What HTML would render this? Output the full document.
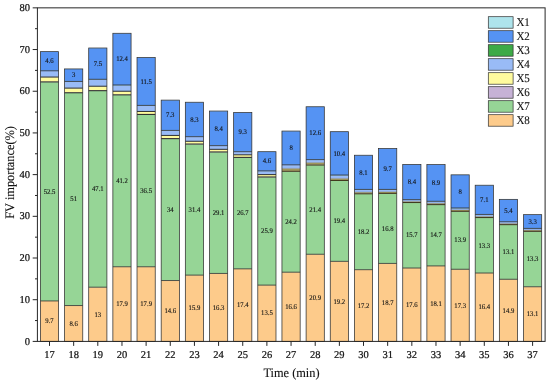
<!DOCTYPE html>
<html><head><meta charset="utf-8"><title>FV importance</title>
<style>html,body{margin:0;padding:0;background:#fff}svg{display:block}text{font-family:"Liberation Serif","Times New Roman",serif;fill:#111;text-rendering:geometricPrecision}.b text{stroke:#111;stroke-width:0.22px}text.t{stroke:#111;stroke-width:0.12px}.s text{stroke:#111;stroke-width:0.12px}</style></head><body>
<svg width="550" height="383" viewBox="0 0 550 383">
<rect width="550" height="383" fill="#fff"/>
<g><rect x="40.40" y="300.96" width="18.20" height="40.49" fill="#FDCB8B"/><rect x="40.40" y="82.06" width="18.20" height="218.94" fill="#96D596"/><rect x="40.40" y="81.65" width="18.20" height="0.47" fill="#C6B2D6"/><rect x="40.40" y="77.06" width="18.20" height="4.64" fill="#FFFB9E"/><rect x="40.40" y="70.93" width="18.20" height="6.18" fill="#99BBF6"/><rect x="40.40" y="70.81" width="18.20" height="0.18" fill="#3DAA47"/><rect x="40.40" y="51.71" width="18.20" height="19.15" fill="#5593F3"/><rect x="40.40" y="51.63" width="18.20" height="0.13" fill="#AEE4EC"/><rect x="64.56" y="305.54" width="18.20" height="35.91" fill="#FDCB8B"/><rect x="64.56" y="92.91" width="18.20" height="212.69" fill="#96D596"/><rect x="64.56" y="92.49" width="18.20" height="0.47" fill="#C6B2D6"/><rect x="64.56" y="88.11" width="18.20" height="4.43" fill="#FFFB9E"/><rect x="64.56" y="81.56" width="18.20" height="6.60" fill="#99BBF6"/><rect x="64.56" y="81.44" width="18.20" height="0.18" fill="#3DAA47"/><rect x="64.56" y="69.01" width="18.20" height="12.47" fill="#5593F3"/><rect x="64.56" y="68.93" width="18.20" height="0.13" fill="#AEE4EC"/><rect x="88.71" y="287.20" width="18.20" height="54.25" fill="#FDCB8B"/><rect x="88.71" y="90.82" width="18.20" height="196.43" fill="#96D596"/><rect x="88.71" y="90.40" width="18.20" height="0.47" fill="#C6B2D6"/><rect x="88.71" y="86.23" width="18.20" height="4.22" fill="#FFFB9E"/><rect x="88.71" y="79.44" width="18.20" height="6.85" fill="#99BBF6"/><rect x="88.71" y="79.31" width="18.20" height="0.18" fill="#3DAA47"/><rect x="88.71" y="48.08" width="18.20" height="31.28" fill="#5593F3"/><rect x="88.71" y="48.00" width="18.20" height="0.13" fill="#AEE4EC"/><rect x="112.87" y="266.77" width="18.20" height="74.68" fill="#FDCB8B"/><rect x="112.87" y="94.99" width="18.20" height="171.83" fill="#96D596"/><rect x="112.87" y="94.57" width="18.20" height="0.47" fill="#C6B2D6"/><rect x="112.87" y="91.24" width="18.20" height="3.39" fill="#FFFB9E"/><rect x="112.87" y="85.11" width="18.20" height="6.18" fill="#99BBF6"/><rect x="112.87" y="84.98" width="18.20" height="0.18" fill="#3DAA47"/><rect x="112.87" y="33.37" width="18.20" height="51.67" fill="#5593F3"/><rect x="112.87" y="33.28" width="18.20" height="0.13" fill="#AEE4EC"/><rect x="137.02" y="266.77" width="18.20" height="74.68" fill="#FDCB8B"/><rect x="137.02" y="114.59" width="18.20" height="152.23" fill="#96D596"/><rect x="137.02" y="114.17" width="18.20" height="0.47" fill="#C6B2D6"/><rect x="137.02" y="111.46" width="18.20" height="2.76" fill="#FFFB9E"/><rect x="137.02" y="105.54" width="18.20" height="5.97" fill="#99BBF6"/><rect x="137.02" y="105.41" width="18.20" height="0.18" fill="#3DAA47"/><rect x="137.02" y="57.55" width="18.20" height="47.91" fill="#5593F3"/><rect x="137.02" y="57.47" width="18.20" height="0.13" fill="#AEE4EC"/><rect x="161.18" y="280.53" width="18.20" height="60.92" fill="#FDCB8B"/><rect x="161.18" y="138.77" width="18.20" height="141.81" fill="#96D596"/><rect x="161.18" y="138.35" width="18.20" height="0.47" fill="#C6B2D6"/><rect x="161.18" y="135.43" width="18.20" height="2.97" fill="#FFFB9E"/><rect x="161.18" y="130.55" width="18.20" height="4.93" fill="#99BBF6"/><rect x="161.18" y="130.43" width="18.20" height="0.18" fill="#3DAA47"/><rect x="161.18" y="100.20" width="18.20" height="30.28" fill="#5593F3"/><rect x="161.18" y="100.12" width="18.20" height="0.13" fill="#AEE4EC"/><rect x="185.33" y="275.11" width="18.20" height="66.34" fill="#FDCB8B"/><rect x="185.33" y="144.19" width="18.20" height="130.97" fill="#96D596"/><rect x="185.33" y="143.77" width="18.20" height="0.47" fill="#C6B2D6"/><rect x="185.33" y="141.27" width="18.20" height="2.55" fill="#FFFB9E"/><rect x="185.33" y="136.81" width="18.20" height="4.51" fill="#99BBF6"/><rect x="185.33" y="136.68" width="18.20" height="0.18" fill="#3DAA47"/><rect x="185.33" y="102.33" width="18.20" height="34.41" fill="#5593F3"/><rect x="185.33" y="102.24" width="18.20" height="0.13" fill="#AEE4EC"/><rect x="209.49" y="273.44" width="18.20" height="68.01" fill="#FDCB8B"/><rect x="209.49" y="152.11" width="18.20" height="121.38" fill="#96D596"/><rect x="209.49" y="151.69" width="18.20" height="0.47" fill="#C6B2D6"/><rect x="209.49" y="149.32" width="18.20" height="2.43" fill="#FFFB9E"/><rect x="209.49" y="145.77" width="18.20" height="3.59" fill="#99BBF6"/><rect x="209.49" y="145.65" width="18.20" height="0.18" fill="#3DAA47"/><rect x="209.49" y="111.13" width="18.20" height="34.57" fill="#5593F3"/><rect x="209.49" y="111.04" width="18.20" height="0.13" fill="#AEE4EC"/><rect x="233.64" y="268.85" width="18.20" height="72.60" fill="#FDCB8B"/><rect x="233.64" y="157.53" width="18.20" height="111.37" fill="#96D596"/><rect x="233.64" y="157.11" width="18.20" height="0.47" fill="#C6B2D6"/><rect x="233.64" y="154.82" width="18.20" height="2.34" fill="#FFFB9E"/><rect x="233.64" y="151.82" width="18.20" height="3.05" fill="#99BBF6"/><rect x="233.64" y="151.69" width="18.20" height="0.18" fill="#3DAA47"/><rect x="233.64" y="112.58" width="18.20" height="39.16" fill="#5593F3"/><rect x="233.64" y="112.50" width="18.20" height="0.13" fill="#AEE4EC"/><rect x="257.79" y="285.11" width="18.20" height="56.34" fill="#FDCB8B"/><rect x="257.79" y="177.13" width="18.20" height="108.04" fill="#96D596"/><rect x="257.79" y="176.71" width="18.20" height="0.47" fill="#C6B2D6"/><rect x="257.79" y="174.62" width="18.20" height="2.13" fill="#FFFB9E"/><rect x="257.79" y="171.00" width="18.20" height="3.68" fill="#99BBF6"/><rect x="257.79" y="170.87" width="18.20" height="0.18" fill="#3DAA47"/><rect x="257.79" y="151.78" width="18.20" height="19.15" fill="#5593F3"/><rect x="257.79" y="151.69" width="18.20" height="0.13" fill="#AEE4EC"/><rect x="281.95" y="272.19" width="18.20" height="69.26" fill="#FDCB8B"/><rect x="281.95" y="171.29" width="18.20" height="100.95" fill="#96D596"/><rect x="281.95" y="170.87" width="18.20" height="0.47" fill="#C6B2D6"/><rect x="281.95" y="168.37" width="18.20" height="2.55" fill="#A0965A"/><rect x="281.95" y="164.95" width="18.20" height="3.47" fill="#99BBF6"/><rect x="281.95" y="164.83" width="18.20" height="0.18" fill="#3DAA47"/><rect x="281.95" y="131.14" width="18.20" height="33.74" fill="#5593F3"/><rect x="281.95" y="131.06" width="18.20" height="0.13" fill="#AEE4EC"/><rect x="306.11" y="254.26" width="18.20" height="87.19" fill="#FDCB8B"/><rect x="306.11" y="165.04" width="18.20" height="89.27" fill="#96D596"/><rect x="306.11" y="164.62" width="18.20" height="0.47" fill="#C6B2D6"/><rect x="306.11" y="162.53" width="18.20" height="2.13" fill="#A0965A"/><rect x="306.11" y="159.74" width="18.20" height="2.84" fill="#99BBF6"/><rect x="306.11" y="159.62" width="18.20" height="0.18" fill="#3DAA47"/><rect x="306.11" y="106.83" width="18.20" height="52.83" fill="#5593F3"/><rect x="306.11" y="106.75" width="18.20" height="0.13" fill="#AEE4EC"/><rect x="330.26" y="261.35" width="18.20" height="80.10" fill="#FDCB8B"/><rect x="330.26" y="180.46" width="18.20" height="80.94" fill="#96D596"/><rect x="330.26" y="180.05" width="18.20" height="0.47" fill="#C6B2D6"/><rect x="330.26" y="178.38" width="18.20" height="1.72" fill="#A0965A"/><rect x="330.26" y="175.17" width="18.20" height="3.26" fill="#99BBF6"/><rect x="330.26" y="175.04" width="18.20" height="0.18" fill="#3DAA47"/><rect x="330.26" y="131.76" width="18.20" height="43.33" fill="#5593F3"/><rect x="330.26" y="131.68" width="18.20" height="0.13" fill="#AEE4EC"/><rect x="354.41" y="269.69" width="18.20" height="71.76" fill="#FDCB8B"/><rect x="354.41" y="193.80" width="18.20" height="75.93" fill="#96D596"/><rect x="354.41" y="193.39" width="18.20" height="0.47" fill="#C6B2D6"/><rect x="354.41" y="192.14" width="18.20" height="1.30" fill="#A0965A"/><rect x="354.41" y="189.55" width="18.20" height="2.64" fill="#99BBF6"/><rect x="354.41" y="189.43" width="18.20" height="0.18" fill="#3DAA47"/><rect x="354.41" y="155.32" width="18.20" height="34.16" fill="#5593F3"/><rect x="354.41" y="155.24" width="18.20" height="0.13" fill="#AEE4EC"/><rect x="378.57" y="263.43" width="18.20" height="78.02" fill="#FDCB8B"/><rect x="378.57" y="193.39" width="18.20" height="70.10" fill="#96D596"/><rect x="378.57" y="192.97" width="18.20" height="0.47" fill="#C6B2D6"/><rect x="378.57" y="191.72" width="18.20" height="1.30" fill="#A0965A"/><rect x="378.57" y="189.55" width="18.20" height="2.22" fill="#99BBF6"/><rect x="378.57" y="189.43" width="18.20" height="0.18" fill="#3DAA47"/><rect x="378.57" y="148.57" width="18.20" height="40.91" fill="#5593F3"/><rect x="378.57" y="148.48" width="18.20" height="0.13" fill="#AEE4EC"/><rect x="402.73" y="268.02" width="18.20" height="73.43" fill="#FDCB8B"/><rect x="402.73" y="202.56" width="18.20" height="65.51" fill="#96D596"/><rect x="402.73" y="202.14" width="18.20" height="0.47" fill="#C6B2D6"/><rect x="402.73" y="201.31" width="18.20" height="0.88" fill="#A0965A"/><rect x="402.73" y="199.77" width="18.20" height="1.59" fill="#99BBF6"/><rect x="402.73" y="199.64" width="18.20" height="0.18" fill="#3DAA47"/><rect x="402.73" y="164.49" width="18.20" height="35.20" fill="#5593F3"/><rect x="402.73" y="164.41" width="18.20" height="0.13" fill="#AEE4EC"/><rect x="426.88" y="265.93" width="18.20" height="75.52" fill="#FDCB8B"/><rect x="426.88" y="204.64" width="18.20" height="61.34" fill="#96D596"/><rect x="426.88" y="204.23" width="18.20" height="0.47" fill="#C6B2D6"/><rect x="426.88" y="203.19" width="18.20" height="1.09" fill="#A0965A"/><rect x="426.88" y="201.43" width="18.20" height="1.80" fill="#99BBF6"/><rect x="426.88" y="201.31" width="18.20" height="0.18" fill="#3DAA47"/><rect x="426.88" y="164.70" width="18.20" height="36.66" fill="#5593F3"/><rect x="426.88" y="164.62" width="18.20" height="0.13" fill="#AEE4EC"/><rect x="451.03" y="269.27" width="18.20" height="72.18" fill="#FDCB8B"/><rect x="451.03" y="211.32" width="18.20" height="58.00" fill="#96D596"/><rect x="451.03" y="210.90" width="18.20" height="0.47" fill="#C6B2D6"/><rect x="451.03" y="209.86" width="18.20" height="1.09" fill="#A0965A"/><rect x="451.03" y="208.11" width="18.20" height="1.80" fill="#99BBF6"/><rect x="451.03" y="207.98" width="18.20" height="0.18" fill="#3DAA47"/><rect x="451.03" y="174.92" width="18.20" height="33.11" fill="#5593F3"/><rect x="451.03" y="174.83" width="18.20" height="0.13" fill="#AEE4EC"/><rect x="475.19" y="273.02" width="18.20" height="68.43" fill="#FDCB8B"/><rect x="475.19" y="217.57" width="18.20" height="55.50" fill="#96D596"/><rect x="475.19" y="217.15" width="18.20" height="0.47" fill="#C6B2D6"/><rect x="475.19" y="216.32" width="18.20" height="0.88" fill="#A0965A"/><rect x="475.19" y="214.57" width="18.20" height="1.80" fill="#99BBF6"/><rect x="475.19" y="214.44" width="18.20" height="0.18" fill="#3DAA47"/><rect x="475.19" y="185.30" width="18.20" height="29.19" fill="#5593F3"/><rect x="475.19" y="185.22" width="18.20" height="0.13" fill="#AEE4EC"/><rect x="499.35" y="279.28" width="18.20" height="62.17" fill="#FDCB8B"/><rect x="499.35" y="224.66" width="18.20" height="54.67" fill="#96D596"/><rect x="499.35" y="224.24" width="18.20" height="0.47" fill="#C6B2D6"/><rect x="499.35" y="223.41" width="18.20" height="0.88" fill="#A0965A"/><rect x="499.35" y="221.86" width="18.20" height="1.59" fill="#99BBF6"/><rect x="499.35" y="221.74" width="18.20" height="0.18" fill="#3DAA47"/><rect x="499.35" y="199.43" width="18.20" height="22.36" fill="#5593F3"/><rect x="499.35" y="199.35" width="18.20" height="0.13" fill="#AEE4EC"/><rect x="523.50" y="286.78" width="18.20" height="54.67" fill="#FDCB8B"/><rect x="523.50" y="231.33" width="18.20" height="55.50" fill="#96D596"/><rect x="523.50" y="230.91" width="18.20" height="0.47" fill="#C6B2D6"/><rect x="523.50" y="230.08" width="18.20" height="0.88" fill="#A0965A"/><rect x="523.50" y="228.54" width="18.20" height="1.59" fill="#99BBF6"/><rect x="523.50" y="228.41" width="18.20" height="0.18" fill="#3DAA47"/><rect x="523.50" y="214.73" width="18.20" height="13.73" fill="#5593F3"/><rect x="523.50" y="214.65" width="18.20" height="0.13" fill="#AEE4EC"/></g>
<g stroke="#303030" fill="none"><path d="M40.40 300.96H58.60" stroke-width="0.8"/><path d="M40.40 81.91H58.60" stroke-width="1.1"/><path d="M40.40 77.06H58.60" stroke-width="1"/><path d="M40.40 70.81H58.60" stroke-width="0.8"/><path d="M64.56 305.54H82.75" stroke-width="0.8"/><path d="M64.56 92.76H82.75" stroke-width="1.1"/><path d="M64.56 88.11H82.75" stroke-width="1"/><path d="M64.56 81.44H82.75" stroke-width="0.8"/><path d="M88.71 287.20H106.91" stroke-width="0.8"/><path d="M88.71 90.67H106.91" stroke-width="1.1"/><path d="M88.71 86.23H106.91" stroke-width="1"/><path d="M88.71 79.31H106.91" stroke-width="0.8"/><path d="M112.87 266.77H131.06" stroke-width="0.8"/><path d="M112.87 94.84H131.06" stroke-width="1.1"/><path d="M112.87 91.24H131.06" stroke-width="1"/><path d="M112.87 84.98H131.06" stroke-width="0.8"/><path d="M137.02 266.77H155.22" stroke-width="0.8"/><path d="M137.02 114.44H155.22" stroke-width="1.1"/><path d="M137.02 111.46H155.22" stroke-width="1"/><path d="M137.02 105.41H155.22" stroke-width="0.8"/><path d="M161.18 280.53H179.38" stroke-width="0.8"/><path d="M161.18 138.62H179.38" stroke-width="1.1"/><path d="M161.18 135.43H179.38" stroke-width="1"/><path d="M161.18 130.43H179.38" stroke-width="0.8"/><path d="M185.33 275.11H203.53" stroke-width="0.8"/><path d="M185.33 144.04H203.53" stroke-width="1.1"/><path d="M185.33 141.27H203.53" stroke-width="1"/><path d="M185.33 136.68H203.53" stroke-width="0.8"/><path d="M209.49 273.44H227.69" stroke-width="0.8"/><path d="M209.49 151.96H227.69" stroke-width="1.1"/><path d="M209.49 149.32H227.69" stroke-width="1"/><path d="M209.49 145.65H227.69" stroke-width="0.8"/><path d="M233.64 268.85H251.84" stroke-width="0.8"/><path d="M233.64 157.38H251.84" stroke-width="1.1"/><path d="M233.64 154.82H251.84" stroke-width="1"/><path d="M233.64 151.69H251.84" stroke-width="0.8"/><path d="M257.79 285.11H276.00" stroke-width="0.8"/><path d="M257.79 176.98H276.00" stroke-width="1.1"/><path d="M257.79 174.62H276.00" stroke-width="1"/><path d="M257.79 170.87H276.00" stroke-width="0.8"/><path d="M281.95 272.19H300.15" stroke-width="0.8"/><path d="M281.95 171.29H300.15" stroke-width="1" stroke="#3c3418"/><path d="M281.95 168.37H300.15" stroke-width="0.4" stroke-opacity="0.5"/><path d="M281.95 164.83H300.15" stroke-width="0.8"/><path d="M306.11 254.26H324.31" stroke-width="0.8"/><path d="M306.11 165.04H324.31" stroke-width="1" stroke="#3c3418"/><path d="M306.11 162.53H324.31" stroke-width="0.4" stroke-opacity="0.5"/><path d="M306.11 159.62H324.31" stroke-width="0.8"/><path d="M330.26 261.35H348.46" stroke-width="0.8"/><path d="M330.26 180.46H348.46" stroke-width="1" stroke="#3c3418"/><path d="M330.26 178.38H348.46" stroke-width="0.4" stroke-opacity="0.5"/><path d="M330.26 175.04H348.46" stroke-width="0.8"/><path d="M354.41 269.69H372.62" stroke-width="0.8"/><path d="M354.41 193.80H372.62" stroke-width="1" stroke="#3c3418"/><path d="M354.41 192.14H372.62" stroke-width="0.4" stroke-opacity="0.5"/><path d="M354.41 189.43H372.62" stroke-width="0.8"/><path d="M378.57 263.43H396.77" stroke-width="0.8"/><path d="M378.57 193.39H396.77" stroke-width="1" stroke="#3c3418"/><path d="M378.57 191.72H396.77" stroke-width="0.4" stroke-opacity="0.5"/><path d="M378.57 189.43H396.77" stroke-width="0.8"/><path d="M402.73 268.02H420.93" stroke-width="0.8"/><path d="M402.73 202.56H420.93" stroke-width="1" stroke="#3c3418"/><path d="M402.73 201.31H420.93" stroke-width="0.4" stroke-opacity="0.5"/><path d="M402.73 199.64H420.93" stroke-width="0.8"/><path d="M426.88 265.93H445.08" stroke-width="0.8"/><path d="M426.88 204.64H445.08" stroke-width="1" stroke="#3c3418"/><path d="M426.88 203.19H445.08" stroke-width="0.4" stroke-opacity="0.5"/><path d="M426.88 201.31H445.08" stroke-width="0.8"/><path d="M451.03 269.27H469.24" stroke-width="0.8"/><path d="M451.03 211.32H469.24" stroke-width="1" stroke="#3c3418"/><path d="M451.03 209.86H469.24" stroke-width="0.4" stroke-opacity="0.5"/><path d="M451.03 207.98H469.24" stroke-width="0.8"/><path d="M475.19 273.02H493.39" stroke-width="0.8"/><path d="M475.19 217.57H493.39" stroke-width="1" stroke="#3c3418"/><path d="M475.19 216.32H493.39" stroke-width="0.4" stroke-opacity="0.5"/><path d="M475.19 214.44H493.39" stroke-width="0.8"/><path d="M499.35 279.28H517.55" stroke-width="0.8"/><path d="M499.35 224.66H517.55" stroke-width="1" stroke="#3c3418"/><path d="M499.35 223.41H517.55" stroke-width="0.4" stroke-opacity="0.5"/><path d="M499.35 221.74H517.55" stroke-width="0.8"/><path d="M523.50 286.78H541.70" stroke-width="0.8"/><path d="M523.50 231.33H541.70" stroke-width="1" stroke="#3c3418"/><path d="M523.50 230.08H541.70" stroke-width="0.4" stroke-opacity="0.5"/><path d="M523.50 228.41H541.70" stroke-width="0.8"/></g>
<g stroke="#303030" stroke-width="0.75" fill="none"><rect x="40.40" y="51.63" width="18.20" height="289.77"/><rect x="64.56" y="68.93" width="18.20" height="272.47"/><rect x="88.71" y="48.00" width="18.20" height="293.40"/><rect x="112.87" y="33.28" width="18.20" height="308.12"/><rect x="137.02" y="57.47" width="18.20" height="283.93"/><rect x="161.18" y="100.12" width="18.20" height="241.28"/><rect x="185.33" y="102.24" width="18.20" height="239.16"/><rect x="209.49" y="111.04" width="18.20" height="230.36"/><rect x="233.64" y="112.50" width="18.20" height="228.90"/><rect x="257.79" y="151.69" width="18.20" height="189.71"/><rect x="281.95" y="131.06" width="18.20" height="210.34"/><rect x="306.11" y="106.75" width="18.20" height="234.65"/><rect x="330.26" y="131.68" width="18.20" height="209.72"/><rect x="354.41" y="155.24" width="18.20" height="186.16"/><rect x="378.57" y="148.48" width="18.20" height="192.92"/><rect x="402.73" y="164.41" width="18.20" height="176.99"/><rect x="426.88" y="164.62" width="18.20" height="176.78"/><rect x="451.03" y="174.83" width="18.20" height="166.57"/><rect x="475.19" y="185.22" width="18.20" height="156.18"/><rect x="499.35" y="199.35" width="18.20" height="142.05"/><rect x="523.50" y="214.65" width="18.20" height="126.75"/></g>
<g class="s" font-size="7.2px" text-anchor="middle">
<text transform="translate(49.50 323.38) scale(0.93 1)">9.7</text>
<text transform="translate(49.50 193.71) scale(0.93 1)">52.5</text>
<text transform="translate(49.50 63.42) scale(0.93 1)">4.6</text>
<text transform="translate(73.66 325.67) scale(0.93 1)">8.6</text>
<text transform="translate(73.66 201.42) scale(0.93 1)">51</text>
<text transform="translate(73.66 77.39) scale(0.93 1)">3</text>
<text transform="translate(97.81 316.50) scale(0.93 1)">13</text>
<text transform="translate(97.81 191.21) scale(0.93 1)">47.1</text>
<text transform="translate(97.81 65.86) scale(0.93 1)">7.5</text>
<text transform="translate(121.97 306.28) scale(0.93 1)">17.9</text>
<text transform="translate(121.97 183.08) scale(0.93 1)">41.2</text>
<text transform="translate(121.97 61.33) scale(0.93 1)">12.4</text>
<text transform="translate(146.12 306.28) scale(0.93 1)">17.9</text>
<text transform="translate(146.12 192.88) scale(0.93 1)">36.5</text>
<text transform="translate(146.12 83.64) scale(0.93 1)">11.5</text>
<text transform="translate(170.28 313.16) scale(0.93 1)">14.6</text>
<text transform="translate(170.28 211.85) scale(0.93 1)">34</text>
<text transform="translate(170.28 117.47) scale(0.93 1)">7.3</text>
<text transform="translate(194.43 310.45) scale(0.93 1)">15.9</text>
<text transform="translate(194.43 211.85) scale(0.93 1)">31.4</text>
<text transform="translate(194.43 121.66) scale(0.93 1)">8.3</text>
<text transform="translate(218.59 309.62) scale(0.93 1)">16.3</text>
<text transform="translate(218.59 214.97) scale(0.93 1)">29.1</text>
<text transform="translate(218.59 130.54) scale(0.93 1)">8.4</text>
<text transform="translate(242.74 307.33) scale(0.93 1)">17.4</text>
<text transform="translate(242.74 215.39) scale(0.93 1)">26.7</text>
<text transform="translate(242.74 134.30) scale(0.93 1)">9.3</text>
<text transform="translate(266.89 315.46) scale(0.93 1)">13.5</text>
<text transform="translate(266.89 233.32) scale(0.93 1)">25.9</text>
<text transform="translate(266.89 163.48) scale(0.93 1)">4.6</text>
<text transform="translate(291.05 308.99) scale(0.93 1)">16.6</text>
<text transform="translate(291.05 223.94) scale(0.93 1)">24.2</text>
<text transform="translate(291.05 150.14) scale(0.93 1)">8</text>
<text transform="translate(315.21 300.03) scale(0.93 1)">20.9</text>
<text transform="translate(315.21 211.85) scale(0.93 1)">21.4</text>
<text transform="translate(315.21 135.38) scale(0.93 1)">12.6</text>
<text transform="translate(339.36 303.57) scale(0.93 1)">19.2</text>
<text transform="translate(339.36 223.11) scale(0.93 1)">19.4</text>
<text transform="translate(339.36 155.56) scale(0.93 1)">10.4</text>
<text transform="translate(363.51 307.74) scale(0.93 1)">17.2</text>
<text transform="translate(363.51 233.95) scale(0.93 1)">18.2</text>
<text transform="translate(363.51 174.53) scale(0.93 1)">8.1</text>
<text transform="translate(387.67 304.62) scale(0.93 1)">18.7</text>
<text transform="translate(387.67 230.61) scale(0.93 1)">16.8</text>
<text transform="translate(387.67 171.15) scale(0.93 1)">9.7</text>
<text transform="translate(411.83 306.91) scale(0.93 1)">17.6</text>
<text transform="translate(411.83 237.49) scale(0.93 1)">15.7</text>
<text transform="translate(411.83 184.23) scale(0.93 1)">8.4</text>
<text transform="translate(435.98 305.87) scale(0.93 1)">18.1</text>
<text transform="translate(435.98 237.49) scale(0.93 1)">14.7</text>
<text transform="translate(435.98 185.16) scale(0.93 1)">8.9</text>
<text transform="translate(460.13 307.53) scale(0.93 1)">17.3</text>
<text transform="translate(460.13 242.49) scale(0.93 1)">13.9</text>
<text transform="translate(460.13 193.61) scale(0.93 1)">8</text>
<text transform="translate(484.29 309.41) scale(0.93 1)">16.4</text>
<text transform="translate(484.29 247.50) scale(0.93 1)">13.3</text>
<text transform="translate(484.29 202.03) scale(0.93 1)">7.1</text>
<text transform="translate(508.45 312.54) scale(0.93 1)">14.9</text>
<text transform="translate(508.45 254.17) scale(0.93 1)">13.1</text>
<text transform="translate(508.45 212.74) scale(0.93 1)">5.4</text>
<text transform="translate(532.60 316.29) scale(0.93 1)">13.1</text>
<text transform="translate(532.60 261.25) scale(0.93 1)">13.3</text>
<text transform="translate(532.60 223.73) scale(0.93 1)">3.3</text>
</g>
<g stroke="#262626" stroke-width="1" fill="none">
<rect x="37.40" y="7.85" width="507.70" height="333.55"/>
<path d="M32.70 341.40H37.40M35.00 320.55H37.40M32.70 299.71H37.40M35.00 278.86H37.40M32.70 258.01H37.40M35.00 237.17H37.40M32.70 216.32H37.40M35.00 195.47H37.40M32.70 174.62H37.40M35.00 153.78H37.40M32.70 132.93H37.40M35.00 112.08H37.40M32.70 91.24H37.40M35.00 70.39H37.40M32.70 49.54H37.40M35.00 28.70H37.40M32.70 7.85H37.40M49.50 341.40V345.90M73.66 341.40V345.90M97.81 341.40V345.90M121.97 341.40V345.90M146.12 341.40V345.90M170.28 341.40V345.90M194.43 341.40V345.90M218.59 341.40V345.90M242.74 341.40V345.90M266.89 341.40V345.90M291.05 341.40V345.90M315.21 341.40V345.90M339.36 341.40V345.90M363.51 341.40V345.90M387.67 341.40V345.90M411.83 341.40V345.90M435.98 341.40V345.90M460.13 341.40V345.90M484.29 341.40V345.90M508.45 341.40V345.90M532.60 341.40V345.90"/>
</g>
<g class="b" font-size="10.5px" text-anchor="end">
<text x="30" y="344.50">0</text>
<text x="30" y="302.81">10</text>
<text x="30" y="261.11">20</text>
<text x="30" y="219.42">30</text>
<text x="30" y="177.72">40</text>
<text x="30" y="136.03">50</text>
<text x="30" y="94.34">60</text>
<text x="30" y="52.64">70</text>
<text x="30" y="10.95">80</text>
</g>
<g class="b" font-size="10.5px" text-anchor="middle">
<text x="49.50" y="357.6">17</text>
<text x="73.66" y="357.6">18</text>
<text x="97.81" y="357.6">19</text>
<text x="121.97" y="357.6">20</text>
<text x="146.12" y="357.6">21</text>
<text x="170.28" y="357.6">22</text>
<text x="194.43" y="357.6">23</text>
<text x="218.59" y="357.6">24</text>
<text x="242.74" y="357.6">25</text>
<text x="266.89" y="357.6">26</text>
<text x="291.05" y="357.6">27</text>
<text x="315.21" y="357.6">28</text>
<text x="339.36" y="357.6">29</text>
<text x="363.51" y="357.6">30</text>
<text x="387.67" y="357.6">31</text>
<text x="411.83" y="357.6">32</text>
<text x="435.98" y="357.6">33</text>
<text x="460.13" y="357.6">34</text>
<text x="484.29" y="357.6">35</text>
<text x="508.45" y="357.6">36</text>
<text x="532.60" y="357.6">37</text>
</g>
<text class="t" transform="translate(291.5 377) scale(0.95 1)" font-size="13px" text-anchor="middle">Time (min)</text>
<text class="t" transform="translate(13.6 172.4) rotate(-90) scale(0.95 1)" font-size="13px" text-anchor="middle">FV importance(%)</text>
<g stroke="#303030" stroke-width="0.7">
<rect x="488.3" y="16.70" width="24.8" height="11.5" fill="#AEE4EC"/>
<rect x="488.3" y="30.70" width="24.8" height="11.5" fill="#5593F3"/>
<rect x="488.3" y="44.70" width="24.8" height="11.5" fill="#3DAA47"/>
<rect x="488.3" y="58.70" width="24.8" height="11.5" fill="#99BBF6"/>
<rect x="488.3" y="72.70" width="24.8" height="11.5" fill="#FFFB9E"/>
<rect x="488.3" y="86.70" width="24.8" height="11.5" fill="#C6B2D6"/>
<rect x="488.3" y="100.70" width="24.8" height="11.5" fill="#96D596"/>
<rect x="488.3" y="114.70" width="24.8" height="11.5" fill="#FDCB8B"/>
</g>
<g class="s" font-size="11.7px">
<text transform="translate(516.4 26.40) scale(0.94 1)">X1</text>
<text transform="translate(516.4 40.40) scale(0.94 1)">X2</text>
<text transform="translate(516.4 54.40) scale(0.94 1)">X3</text>
<text transform="translate(516.4 68.40) scale(0.94 1)">X4</text>
<text transform="translate(516.4 82.40) scale(0.94 1)">X5</text>
<text transform="translate(516.4 96.40) scale(0.94 1)">X6</text>
<text transform="translate(516.4 110.40) scale(0.94 1)">X7</text>
<text transform="translate(516.4 124.40) scale(0.94 1)">X8</text>
</g>
</svg></body></html>
